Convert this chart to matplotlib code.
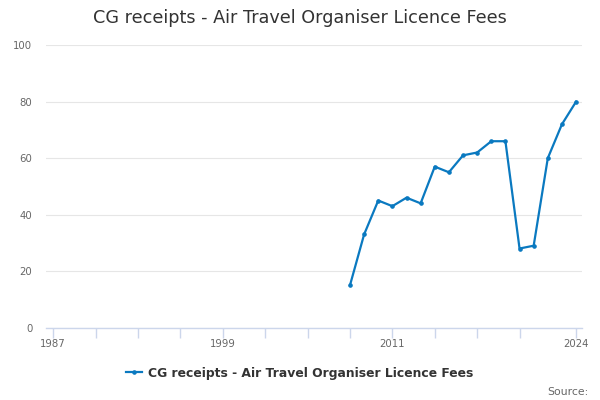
#!/usr/bin/env python3

import matplotlib
matplotlib.use('Agg')
import matplotlib.pyplot as plt

years = [2008, 2009, 2010, 2011, 2012, 2013, 2014, 2015, 2016,
         2017, 2018, 2019, 2020, 2021, 2022, 2023, 2024]
receipts = [15, 33, 45, 43, 46, 44, 57, 55, 61,
            62, 66, 66, 28, 29, 60, 72, 80]
tick_years = list(range(1987, 2021, 3)) + [2024]
label_years = [1987, 1999, 2011, 2024]
y_ticks = [0, 20, 40, 60, 80, 100]

title = 'CG receipts - Air Travel Organiser Licence Fees'
series_name = 'CG receipts - Air Travel Organiser Licence Fees'


def main():
    fig = plt.figure(figsize=(6, 4), dpi=100)
    ax = fig.add_axes([0.077, 0.181, 0.893, 0.706])

    ax.plot(years, receipts, color='#0a79c0', linewidth=1.6,
            marker='o', markersize=2.3, label=series_name)

    ax.set_xlim(1986.5, 2024.42)
    ax.set_ylim(0, 100)

    ax.set_xticks(tick_years)
    ax.set_xticklabels([str(y) if y in label_years else '' for y in tick_years])
    ax.set_yticks(y_ticks)
    ax.set_yticklabels([str(v) for v in y_ticks])

    ax.grid(axis='y', color='#e6e6e6', linewidth=0.8)
    ax.set_axisbelow(True)
    for side in ('top', 'right', 'left'):
        ax.spines[side].set_visible(False)
    ax.spines['bottom'].set_color('#ccd6eb')
    ax.spines['bottom'].set_linewidth(1)

    ax.tick_params(axis='x', length=7, color='#ccd6eb', width=1,
                   labelsize=7.3, labelcolor='#666666', pad=1)
    ax.tick_params(axis='y', length=0, labelsize=7.3,
                   labelcolor='#666666', pad=10)

    fig.text(0.5, 0.955, title, ha='center', va='center',
             fontsize=12.7, color='#333333')

    leg = fig.legend(loc='center', bbox_to_anchor=(0.5, 0.067),
                     frameon=False, handlelength=1.3, handletextpad=0.5,
                     prop={'weight': 'bold', 'size': 8.9})
    for t in leg.get_texts():
        t.set_color('#333333')

    fig.text(0.98, 0.02, 'Source:', ha='right', va='center',
             fontsize=7.8, color='#666666')

    fig.savefig('out.png', dpi=100)


if __name__ == '__main__':
    main()
